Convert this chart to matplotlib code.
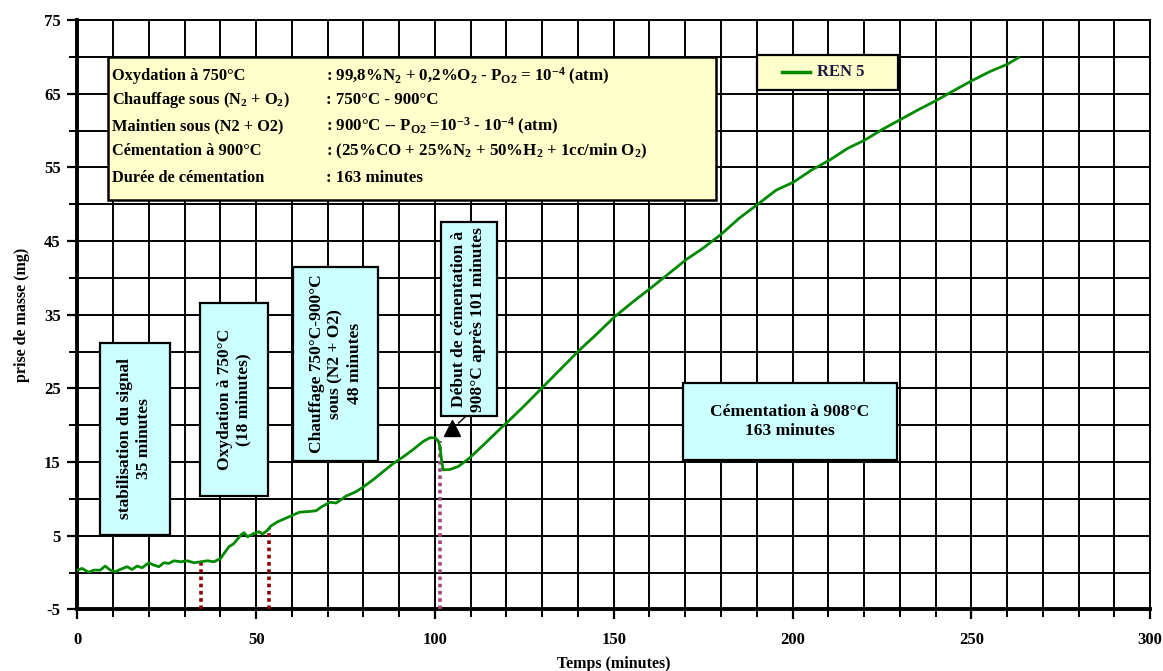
import matplotlib
matplotlib.use("Agg")
import matplotlib.pyplot as plt
from matplotlib.patches import Rectangle
from matplotlib.ticker import MultipleLocator, FixedLocator

plt.rcParams['font.family'] = ['Liberation Serif', 'DejaVu Serif']
plt.rcParams['font.weight'] = 'bold'
plt.rcParams['axes.unicode_minus'] = False
plt.rcParams['mathtext.fontset'] = 'custom'
plt.rcParams['mathtext.rm'] = 'Liberation Serif:bold'
plt.rcParams['mathtext.bf'] = 'Liberation Serif:bold'
plt.rcParams['mathtext.it'] = 'Liberation Serif:bold'
plt.rcParams['mathtext.default'] = 'bf'

# ---- data ----
temps = [0.1, 1.3, 3.2, 4.6, 6.4, 7.8, 9.2, 10.6, 12.0, 13.9, 15.3, 16.7, 18.1, 20.0,
         21.4, 22.8, 24.2, 25.6, 27.0, 28.9, 30.7, 32.6, 34.5, 36.4, 38.2, 40.1, 41.0,
         42.4, 43.8, 45.7, 46.6, 47.6, 49.4, 50.8, 51.8, 53.2, 54.1, 56.0, 59.3, 62.1,
         64.9, 66.8, 68.2, 70.6, 72.4, 75.2, 78.0, 79.9, 82.7, 85.5, 88.3, 91.1, 93.9,
         96.7, 98.6, 100.0, 100.9, 101.4, 101.9, 102.3, 104.2, 106.5, 109.3, 113.5,
         118.2, 120.0, 124.9, 130.0, 135.1, 140.2, 145.3, 150.2, 155.5, 160.3, 165.2,
         170.3, 174.9, 180.0, 185.1, 190.3, 195.4, 200.3, 205.2, 210.4, 215.5, 220.2,
         225.3, 230.2, 235.1, 240.3, 245.4, 250.3, 255.2, 260.1, 263.2]
masse = [0.34, 0.57, 0.05, 0.34, 0.34, 0.89, 0.34, 0.12, 0.43, 0.80, 0.43, 0.89, 0.66, 1.34,
         1.02, 0.80, 1.34, 1.25, 1.61, 1.47, 1.61, 1.34, 1.47, 1.61, 1.47, 1.93, 2.6,
         3.51, 3.96, 5.09, 5.41, 4.87, 5.32, 5.55, 5.23, 5.77, 6.32, 6.9, 7.6, 8.2,
         8.3, 8.4, 8.9, 9.55, 9.45, 10.4, 11.0, 11.6, 12.6, 13.7, 14.8, 15.7, 16.7,
         17.8, 18.3, 18.3, 17.9, 17.1, 15.1, 13.95, 14.0, 14.4, 15.4, 17.3,
         19.5, 20.3, 22.6, 25.1, 27.6, 30.1, 32.4, 34.7, 36.8, 38.6, 40.5,
         42.5, 44.0, 45.9, 48.1, 50.0, 51.9, 53.0, 54.6, 56.0, 57.6, 58.7,
         60.2, 61.5, 62.8, 64.1, 65.5, 66.8, 68.0, 69.0, 69.9]
serie_nom = "REN 5"

# dotted phase markers: (x, top y)
phase_x = [34.5, 53.5, 101.4]
phase_top = [1.5, 6.0, 17.8]
phase_colors = ['#8B0000', '#8B0000', '#A8447E']

x_ticks = [0, 50, 100, 150, 200, 250, 300]
y_ticks = [-5, 5, 15, 25, 35, 45, 55, 65, 75]

info_left = ["Oxydation à 750°C",
             "Chauffage sous (N$_2$ + O$_2$)",
             "Maintien sous (N2 + O2)",
             "Cémentation à 900°C",
             "Durée de cémentation"]
info_right = [": 99,8%N$_2$ + 0,2%O$_2$ - P$_{O2}$ = 10$^{-4}$ (atm)",
              ": 750°C - 900°C",
              ": 900°C -- P$_{O2}$ =10$^{-3}$ - 10$^{-4}$ (atm)",
              ": (25%CO + 25%N$_2$ + 50%H$_2$ + 1cc/min O$_2$)",
              ": 163 minutes"]

# annotation boxes: (x0, x1, y0, y1, text, rotation)
boxes = [
    (6.3, 25.9, 5.1, 31.2, "stabilisation du signal\n35 minutes", 90),
    (34.3, 53.4, 10.4, 36.6, "Oxydation à 750°C\n(18 minutes)", 90),
    (60.4, 84.1, 15.2, 41.5, "Chauffage 750°C-900°C\nsous (N2 + O2)\n48 minutes", 90),
    (101.6, 117.4, 21.2, 47.6, "Début de cémentation à\n908°C après 101 minutes", 90),
    (169.5, 229.1, 15.3, 25.7, "Cémentation à 908°C\n163 minutes", 0),
]

# ---- figure ----
fig = plt.figure(figsize=(11.63, 6.71), dpi=100)
ax = fig.add_axes([0.0665, 0.0917, 0.9224, 0.8785])
ax.set_xlim(0, 300)
ax.set_ylim(-5, 75)

# grid
for gx in range(0, 301, 10):
    ax.axvline(gx, color='black', lw=1.4, zorder=1)
for gy in range(-5, 76, 5):
    ax.axhline(gy, color='black', lw=1.4, zorder=1)

for s in ['left', 'bottom']:
    ax.spines[s].set_linewidth(2.8)
for s in ['right', 'top']:
    ax.spines[s].set_linewidth(1.4)

ax.xaxis.set_major_locator(FixedLocator(x_ticks))
ax.xaxis.set_minor_locator(MultipleLocator(10))
ax.yaxis.set_major_locator(FixedLocator(y_ticks))
ax.yaxis.set_minor_locator(MultipleLocator(5))
ax.tick_params(axis='both', which='major', direction='out', length=7, width=1.6,
               labelsize=12)
ax.tick_params(axis='both', which='minor', direction='out', length=6, width=1.4)
ax.tick_params(axis='x', which='major', pad=9)
ax.tick_params(axis='y', which='major', pad=5)
for lab in ax.get_xticklabels() + ax.get_yticklabels():
    lab.set_fontweight('bold')

ax.set_xlabel("Temps (minutes)", fontsize=11.5, fontweight='bold', labelpad=6)
ax.set_ylabel("prise de masse (mg)", fontsize=11.5, fontweight='bold', labelpad=10)

# phase lines
for px, pt, pc in zip(phase_x, phase_top, phase_colors):
    ax.plot([px, px], [-5, pt], color=pc, lw=2.6, linestyle=(0, (1, 1)), zorder=3,
            solid_capstyle='butt', dash_capstyle='butt')

# curve
ax.plot(temps, masse, color='#008a00', lw=2.0, zorder=4)

# boxes
for x0, x1, y0, y1, txt, rot in boxes:
    ax.add_patch(Rectangle((x0, y0), x1 - x0, y1 - y0, facecolor='#CCFFFF',
                           edgecolor='black', lw=1.6, zorder=5))
    ax.text((x0 + x1) / 2, (y0 + y1) / 2, txt, rotation=rot, ha='center', va='center',
            multialignment='center', fontsize=12.5, fontweight='bold', zorder=6,
            linespacing=1.25)

# arrow near the start of carburizing
ax.plot([104.7], [19.6], marker='^', color='black', markersize=12, zorder=6)
ax.plot([106.6, 108.6], [20.3, 21.2], color='black', lw=1.0, zorder=6)

# info box
ax.add_patch(Rectangle((8.6, 50.6), 178.6 - 8.6, 70.0 - 50.6, facecolor='#FFFFCC',
                       edgecolor='black', lw=1.8, zorder=5))
row_y = [67.4, 64.1, 60.6, 57.2, 53.6]
for ly, lt, rt in zip(row_y, info_left, info_right):
    ax.text(9.8, ly, lt, ha='left', va='center', fontsize=11.8, fontweight='bold', zorder=6)
    ax.text(69.5, ly, rt, ha='left', va='center', fontsize=12.2, fontweight='bold', zorder=6)

# legend box
ax.add_patch(Rectangle((190.0, 65.5), 229.4 - 190.0, 70.25 - 65.5, facecolor='#FFFFCC',
                       edgecolor='black', lw=1.6, zorder=5))
ax.plot([197.0, 205.0], [67.9, 67.9], color='#008a00', lw=2.5, zorder=6)
ax.text(206.8, 67.9, serie_nom, ha='left', va='center', fontsize=12, fontweight='bold',
        color='#1a1a40', zorder=6)

fig.savefig("out.png", dpi=100, facecolor='white')
